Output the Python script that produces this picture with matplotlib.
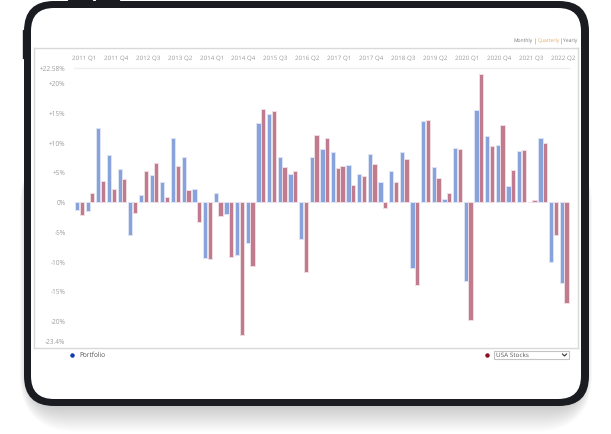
import numpy as np
import matplotlib
matplotlib.use('Agg')
import matplotlib.pyplot as plt
from matplotlib.patches import FancyBboxPatch, Rectangle

# quarterly returns
portfolio = [-1.2, -1.4, 12.5, 7.9, 5.6, -5.4, 1.2, 4.6, 3.4, 10.9, 7.7, 2.2,
             -9.3, 1.5, -1.9, -8.8, -6.8, 13.4, 14.9, 7.6, 4.8, -6.2,
             7.6, 8.9, 8.5, 6.3, 4.8, 8.1, 3.4, 5.3, 8.5, -11.0,
             13.7, 5.9, 0.6, 9.1, -13.2, 15.6, 11.1, 9.7, 2.8, 8.7,
             0.1, 10.9, -10.0, -13.6]
usa_stocks = [-2.2, 1.6, 3.6, 2.3, 4.0, -1.8, 5.3, 6.6, 0.9, 6.05, 2.0, -3.3,
              -9.5, -2.3, -9.1, -22.3, -10.7, 15.7, 15.4, 5.9, 5.3, -11.7,
              11.4, 10.9, 5.8, 3.0, 4.4, 6.4, -0.9, 3.5, 7.3, -13.8,
              13.8, 4.1, 1.5, 9.0, -19.8, 21.5, 9.5, 13.0, 5.4, 8.8,
              0.35, 10.0, -5.4, -16.9]
# one stray red bar sits after 2017 Q1 in the original
extra_red = 6.1
extra_after = 24

x_labels = ['2011 Q1', '2011 Q4', '2012 Q3', '2013 Q2', '2014 Q1', '2014 Q4',
            '2015 Q3', '2016 Q2', '2017 Q1', '2017 Q4', '2018 Q3', '2019 Q2',
            '2020 Q1', '2020 Q4', '2021 Q3', '2022 Q2']
y_ticks = [22.58, 20, 15, 10, 5, 0, -5, -10, -15, -20, -23.4]
y_labels = ['+22.58%', '+20%', '+15%', '+10%', '+5%', '0%', '-5%', '-10%',
            '-15%', '-20%', '-23.4%']

W, H = 611, 434
plt.rcParams['font.family'] = ['Open Sans', 'DejaVu Sans']
plt.rcParams['text.hinting'] = 'none'
fig = plt.figure(figsize=(W / 100, H / 100), dpi=100)

# background layer in pixel coordinates: the tablet
bg = fig.add_axes([0, 0, 1, 1])
bg.set_xlim(0, W)
bg.set_ylim(H, 0)
bg.axis('off')


def rounded(x0, y0, x1, y1, r, **kw):
    return FancyBboxPatch((x0 + r, y0 + r), x1 - x0 - 2 * r, y1 - y0 - 2 * r,
                          boxstyle='round,pad=%s,rounding_size=%s' % (r, r), **kw)


# soft shadow
for g in np.arange(28, 0, -1):
    bg.add_patch(rounded(28 - g * 0.3, 150, 584 + g * 0.3, 404 + g, 30 + g,
                         facecolor='black', edgecolor='none', alpha=0.006))

# side and top buttons
bg.add_patch(Rectangle((68, 0), 24, 4, color='#1a1c22'))
bg.add_patch(Rectangle((96, 0), 23, 4, color='#1a1c22'))
bg.add_patch(Rectangle((22.5, 30), 3, 28, color='#1a1c22'))

bg.add_patch(rounded(24, 1, 589, 406, 30, facecolor='#1a1c22', edgecolor='none'))
bg.add_patch(rounded(31, 8, 581, 399, 23, facecolor='white', edgecolor='none'))

# chart, the axes box is the grey frame
left, right, top, bottom = 34.3, 578, 48.3, 348
ax = fig.add_axes([left / W, 1 - bottom / H, (right - left) / W, (bottom - top) / H])
ax.patch.set_alpha(0)
px = 10.67
ax.set_xlim((left - 77) / px, (right - 77) / px)
ax.set_ylim((202.4 - bottom) / 5.95, (202.4 - top) / 5.95)

slot = 4.67 / px
idx = np.arange(len(portfolio))
pos = idx + slot * (idx > extra_after)
blue_kw = dict(color='#88a3dc', edgecolor='#dce4f6', linewidth=0.7, width=0.4)
red_kw = dict(color='#c07c8e', edgecolor='#f0dde2', linewidth=0.7, width=0.4)
ax.bar(pos, portfolio, **blue_kw)
ax.bar(pos + slot, usa_stocks, **red_kw)
ax.bar(extra_after + 2 * slot, extra_red, **red_kw)

# only the top value has a guide line
ax.plot([(74 - 77) / px, (569 - 77) / px], [22.58, 22.58], color='#efefef', lw=1, zorder=0)

ax.xaxis.tick_top()
ax.set_xticks(np.linspace((84 - 77) / px, (563 - 77) / px, len(x_labels)))
ax.set_xticklabels(x_labels)
ax.set_yticks(y_ticks)
ax.set_yticklabels(y_labels)
ax.tick_params(axis='x', length=0, pad=-9.5, labelsize=4.5, labelcolor='#9c9c9c')
ax.tick_params(axis='y', length=0, pad=-22.5, labelsize=4.7, labelcolor='#9c9c9c')
for s in ax.spines.values():
    s.set_color('#d9d9d9')
    s.set_linewidth(1)

# period switch, top right
bg.text(514, 42, 'Monthly', fontsize=3.6, color='#777777', va='center')
bg.text(533.7, 42, '|', fontsize=4.2, color='#777777', va='center')
bg.text(537.5, 42, 'Quarterly', fontsize=3.6, color='#dfa868', va='center')
bg.text(559.3, 42, '|', fontsize=4.2, color='#777777', va='center')
bg.text(563, 42, 'Yearly', fontsize=3.6, color='#777777', va='center')

# legend row under the chart
bg.plot([72.3], [355], 'o', ms=3.2, color='#0b3cb0', mew=0)
bg.text(79, 355.5, 'Portfolio', fontsize=4.7, color='#555555', va='center')
bg.plot([487], [355], 'o', ms=3.2, color='#8e0f25', mew=0)
bg.add_patch(Rectangle((493.5, 351), 75.5, 8, facecolor='white', edgecolor='#c4c4c4', lw=0.8))
bg.text(495.5, 355.5, 'USA Stocks', fontsize=4.6, color='#555555', va='center')
bg.plot([562.5, 564.5, 566.5], [354, 356, 354], color='#333333', lw=0.8)

fig.savefig('out.png', dpi=100)
